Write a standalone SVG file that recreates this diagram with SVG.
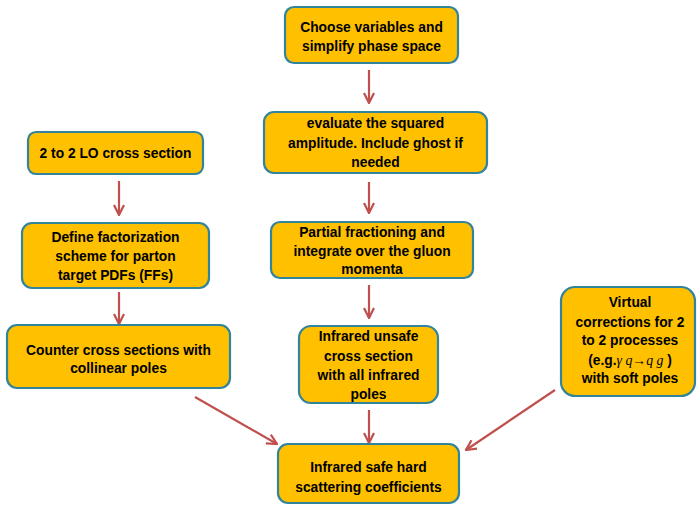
<svg xmlns="http://www.w3.org/2000/svg" width="697" height="505" viewBox="0 0 697 505">
<defs>
<style>
.box{fill:#FFC000;stroke:#31849B;stroke-width:2.2}
.t{font-family:"Liberation Sans",Arial,sans-serif;font-weight:bold;font-size:13.8px;fill:#000;text-anchor:middle}
.m{font-family:"Liberation Serif","Times New Roman",serif;font-style:italic;font-weight:normal}
.c{stroke:#C0504D;stroke-width:2.2;fill:none}
</style>
<marker id="ah" viewBox="0 0 12 12" refX="11" refY="6" markerWidth="12" markerHeight="12" markerUnits="userSpaceOnUse" orient="auto">
<path d="M1,1 L11,6 L1,11" fill="none" stroke="#C0504D" stroke-width="2.2"/>
</marker>
</defs>
<rect width="697" height="505" fill="#fff"/>
<g id="connectors">
<line class="c" x1="369" y1="70" x2="369" y2="103" marker-end="url(#ah)"/>
<line class="c" x1="369" y1="182" x2="369" y2="213" marker-end="url(#ah)"/>
<line class="c" x1="369" y1="285" x2="369" y2="318" marker-end="url(#ah)"/>
<line class="c" x1="369" y1="410" x2="369" y2="443" marker-end="url(#ah)"/>
<line class="c" x1="119" y1="181" x2="119" y2="215" marker-end="url(#ah)"/>
<line class="c" x1="119" y1="292" x2="119" y2="324" marker-end="url(#ah)"/>
<line class="c" x1="195" y1="397" x2="277" y2="444" marker-end="url(#ah)"/>
<line class="c" x1="555" y1="390" x2="466" y2="450" marker-end="url(#ah)"/>
</g>
<g id="n1">
<rect class="box" x="285" y="7" width="173" height="56" rx="9"/>
<text class="t" x="371.5" y="32">Choose variables and</text>
<text class="t" x="371.5" y="51">simplify phase space</text>
</g>
<g id="n2">
<rect class="box" x="264" y="112" width="223" height="61" rx="10"/>
<text class="t" x="375.5" y="128">evaluate the squared</text>
<text class="t" x="375.5" y="148">amplitude. Include ghost if</text>
<text class="t" x="375.5" y="167">needed</text>
</g>
<g id="n3">
<rect class="box" x="271" y="222" width="202" height="56" rx="9"/>
<text class="t" x="372" y="237">Partial fractioning and</text>
<text class="t" x="372" y="256">integrate over the gluon</text>
<text class="t" x="372" y="274">momenta</text>
</g>
<g id="n4">
<rect class="box" x="299" y="326" width="139" height="77" rx="12"/>
<text class="t" x="368.5" y="341">Infrared unsafe</text>
<text class="t" x="368.5" y="361">cross section</text>
<text class="t" x="368.5" y="380">with all infrared</text>
<text class="t" x="368.5" y="399">poles</text>
</g>
<g id="n5">
<rect class="box" x="278" y="444" width="181" height="59" rx="10"/>
<text class="t" x="368.5" y="472">Infrared safe hard</text>
<text class="t" x="368.5" y="492">scattering coefficients</text>
</g>
<g id="n6">
<rect class="box" x="28" y="132" width="175" height="42" rx="8"/>
<text class="t" x="115.5" y="158">2 to 2 LO cross section</text>
</g>
<g id="n7">
<rect class="box" x="22" y="223" width="187" height="65" rx="10"/>
<text class="t" x="115.5" y="242">Define factorization</text>
<text class="t" x="115.5" y="261">scheme for parton</text>
<text class="t" x="115.5" y="280">target PDFs (FFs)</text>
</g>
<g id="n8">
<rect class="box" x="7" y="325" width="223" height="63" rx="10"/>
<text class="t" x="118.5" y="355">Counter cross sections with</text>
<text class="t" x="118.5" y="373">collinear poles</text>
</g>
<g id="n9">
<rect class="box" x="561" y="287" width="134" height="109" rx="14"/>
<text class="t" x="630" y="307">Virtual</text>
<text class="t" x="630" y="327">corrections for 2</text>
<text class="t" x="630" y="345">to 2 processes</text>
<text class="t" x="630" y="365">(e.g.<tspan class="m">γ q</tspan><tspan font-weight="normal" font-family="Liberation Serif,serif">→</tspan><tspan class="m">q g</tspan> )</text>
<text class="t" x="630" y="383">with soft poles</text>
</g>
</svg>
